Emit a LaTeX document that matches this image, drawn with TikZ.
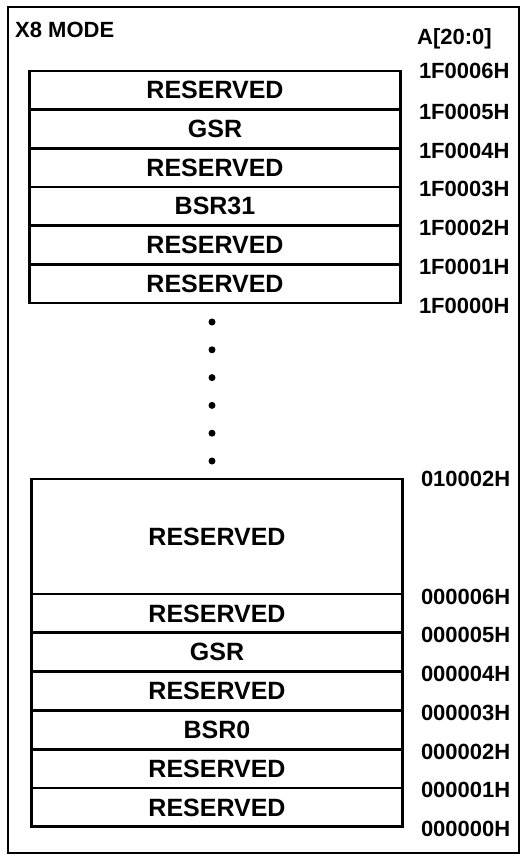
\documentclass[tikz,border=0pt]{standalone}
\usepackage{fontspec}
\setmainfont{Liberation Sans}
\usetikzlibrary{positioning}

\tikzset{
  cell/.style={draw, line width=2.6pt, minimum width=371pt, minimum height=38.7pt,
    inner sep=0pt, font=\fontsize{25}{27}\bfseries\selectfont},
  addr/.style={anchor=west, inner sep=0pt, font=\fontsize{22}{24}\bfseries\selectfont},
  gapdot/.style={circle, fill=black, inner sep=0pt, minimum size=7pt}
}

\begin{document}
\begin{tikzpicture}[x=1pt, y=-1pt]
  \useasboundingbox (0,0) rectangle (521,857);
  \draw[line width=1.5pt] (8,7) rectangle (519,853);

  \node[addr, anchor=base west] (mode) at (15,37) {X8 MODE};
  \node[addr, anchor=base west] (bus) at (417,44) {A[20:0]};

  % Upper block
  \foreach \name/\txt [count=\i from 0] in
    {u5/RESERVED, u4/GSR, u3/RESERVED, u2/BSR31, u1/RESERVED, u0/RESERVED}
    \node[cell] (\name) at (215, 90.3+38.7*\i) {\txt};

  \node[addr] (a6) at ([xshift=17pt,yshift=-1pt]u5.north east) {1F0006H};
  \foreach \name/\txt in {u5/1F0005H, u4/1F0004H, u3/1F0003H,
                          u2/1F0002H, u1/1F0001H, u0/1F0000H}
    \node[addr] (a\name) at ([xshift=17pt,yshift=-1pt]\name.south east) {\txt};

  % Gap
  \foreach \k in {0,...,5}
    \node[gapdot] (dot\k) at (212, 322+27.8*\k) {};

  % Lower block
  \node[cell, minimum height=115pt] (big) at (217, 536.5) {RESERVED};
  \foreach \name/\txt [count=\i from 0] in
    {l5/RESERVED, l4/GSR, l3/RESERVED, l2/BSR0, l1/RESERVED, l0/RESERVED}
    \node[cell] (\name) at (217, 613.4+38.8*\i) {\txt};

  \node[addr] (abig) at ([xshift=17pt,yshift=-1pt]big.north east) {010002H};
  \node[addr] (a06) at ([xshift=17pt,yshift=-2pt]big.south east) {000006H};
  \foreach \name/\txt in {l5/000005H, l4/000004H, l3/000003H,
                          l2/000002H, l1/000001H, l0/000000H}
    \node[addr] (a\name) at ([xshift=17pt,yshift=-1pt]\name.south east) {\txt};

\end{tikzpicture}
\end{document}
